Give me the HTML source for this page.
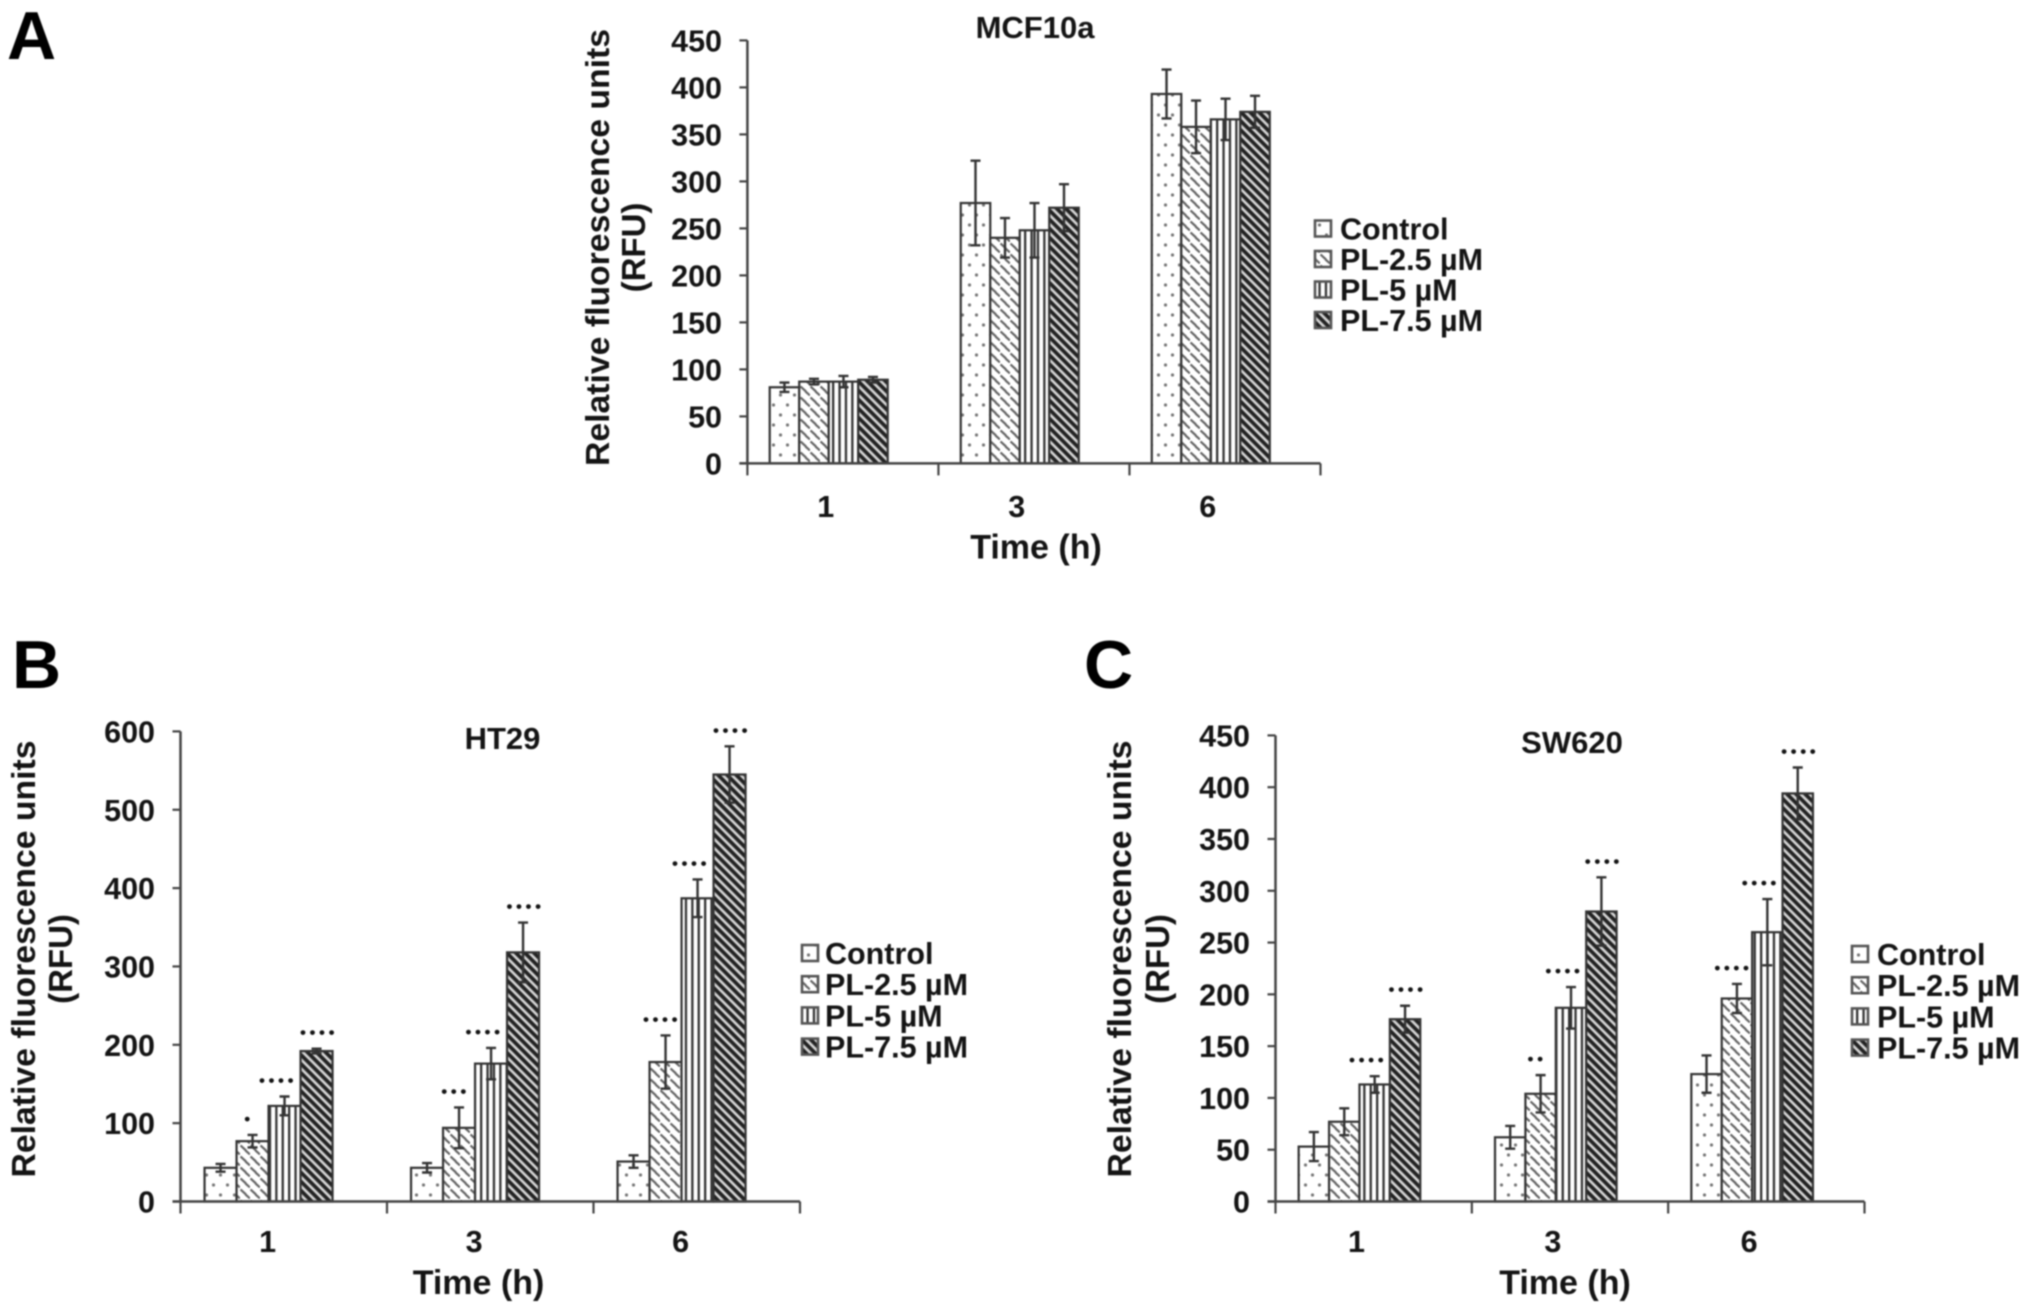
<!DOCTYPE html>
<html>
<head>
<meta charset="utf-8">
<title>Relative fluorescence charts</title>
<style>
html,body{margin:0;padding:0;background:#fff;width:2031px;height:1312px;overflow:hidden}
svg{display:block;filter:blur(0.7px)}
text{font-family:"Liberation Sans",sans-serif;font-weight:bold;fill:#141414}
</style>
</head>
<body>
<svg id="figure" xmlns="http://www.w3.org/2000/svg" width="2031" height="1312" viewBox="0 0 2031 1312">
<defs>
<pattern id="pat-dots" patternUnits="userSpaceOnUse" width="14" height="20">
<rect width="14" height="20" fill="#fff"/>
<circle cx="3.5" cy="5" r="1.6" fill="#777"/>
<circle cx="10.5" cy="15" r="1.6" fill="#777"/>
</pattern>
<pattern id="pat-wave" patternUnits="userSpaceOnUse" width="10" height="11">
<rect width="10" height="11" fill="#fff"/>
<path d="M0.5 1.5L6 6.5M5.5 6.5L10 10.5" stroke="#666" stroke-width="2.2" fill="none"/>
</pattern>
<pattern id="pat-vert" patternUnits="userSpaceOnUse" width="6.4" height="10">
<rect width="6.4" height="10" fill="#fff"/>
<rect x="0" width="2.3" height="10" fill="#333"/>
</pattern>
<pattern id="pat-diag" patternUnits="userSpaceOnUse" width="6.4" height="6.4" patternTransform="rotate(45)">
<rect width="6.4" height="6.4" fill="#d4d4d4"/>
<rect y="0" width="6.4" height="3.7" fill="#222"/>
</pattern>
</defs>
</svg>
<script>
// ---- shared data ----
const categories = ['1', '3', '6'];
const seriesNames = ['Control', 'PL-2.5 µM', 'PL-5 µM', 'PL-7.5 µM'];

// Panel A: MCF10a
const mcfTicks = [0, 50, 100, 150, 200, 250, 300, 350, 400, 450];
const mcfControl = [81, 277, 393];
const mcfPl25 = [87, 240, 358];
const mcfPl5 = [87, 248, 366];
const mcfPl75 = [89, 272, 374];
const mcfControlErr = [5, 45, 26];
const mcfPl25Err = [3, 21, 28];
const mcfPl5Err = [6, 29, 22];
const mcfPl75Err = [3, 25, 17];
const mcfControlStars = [0, 0, 0];
const mcfPl25Stars = [0, 0, 0];
const mcfPl5Stars = [0, 0, 0];
const mcfPl75Stars = [0, 0, 0];

// Panel B: HT29
const htTicks = [0, 100, 200, 300, 400, 500, 600];
const htControl = [43, 43, 51];
const htPl25 = [77, 94, 178];
const htPl5 = [122, 176, 387];
const htPl75 = [192, 318, 545];
const htControlErr = [5, 6, 8];
const htPl25Err = [8, 26, 34];
const htPl5Err = [12, 20, 24];
const htPl75Err = [3, 38, 36];
const htControlStars = [0, 0, 0];
const htPl25Stars = [1, 3, 4];
const htPl5Stars = [4, 4, 4];
const htPl75Stars = [4, 4, 4];

// Panel C: SW620
const swTicks = [0, 50, 100, 150, 200, 250, 300, 350, 400, 450];
const swControl = [53, 62, 123];
const swPl25 = [77, 104, 196];
const swPl5 = [113, 187, 260];
const swPl75 = [176, 280, 394];
const swControlErr = [14, 11, 18];
const swPl25Err = [13, 18, 14];
const swPl5Err = [8, 20, 32];
const swPl75Err = [13, 33, 25];
const swControlStars = [0, 0, 0];
const swPl25Stars = [0, 2, 4];
const swPl5Stars = [4, 4, 4];
const swPl75Stars = [4, 4, 4];

const patterns = ['pat-dots', 'pat-wave', 'pat-vert', 'pat-diag'];
const svgNS = 'http://www.w3.org/2000/svg';
const fig = document.getElementById('figure');

function make(tag, attrs, parent, txt) {
  const el = document.createElementNS(svgNS, tag);
  for (const k in attrs) el.setAttribute(k, attrs[k]);
  if (txt !== undefined) el.textContent = txt;
  parent.appendChild(el);
  return el;
}

function starShift(s) {
  return s === 1 ? -5 : s === 2 ? -8 : s === 3 ? 1 : 0;
}

function drawPanel(p) {
  const g = make('g', {}, fig);
  
  

  const maxV = p.ticks[p.ticks.length - 1];
  const yScale = v => p.y0 - (v / maxV) * (p.y0 - p.yTop);
  const band = (p.xRight - p.xAxis) / categories.length;
  const groupCenter = i => p.xAxis + band * (i + 0.5) + p.groupShift;
  const barX = (i, s) => groupCenter(i) + (s - 2) * p.barW;

  const letter = make('text', {x: p.letterX, y: p.letterY, 'font-size': 68, style: 'fill:#000'}, g, p.letter);
  
  

  const title = make('text', {x: p.titleX, y: p.titleY, 'font-size': 31, 'text-anchor': 'middle'}, g, p.title);
  
  

  // bars + error bars + stars
  p.series.forEach((vals, s) => {
    vals.forEach((v, i) => {
      const x = barX(i, s);
      const bar = make('rect', {x: x, y: yScale(v), width: p.barW, height: p.y0 - yScale(v),
        fill: 'url(#' + patterns[s] + ')', stroke: '#333', 'stroke-width': 2.2}, g);
      
      
    });
  });
  p.series.forEach((vals, s) => {
    vals.forEach((v, i) => {
      const cx = barX(i, s) + p.barW / 2;
      const e = p.errors[s][i];
      const top = yScale(v + e), bot = yScale(v - e);
      const eb = make('path', {d: 'M' + cx + ' ' + top + 'V' + bot +
        'M' + (cx - 5) + ' ' + top + 'H' + (cx + 5) +
        'M' + (cx - 5) + ' ' + bot + 'H' + (cx + 5),
        stroke: '#333', 'stroke-width': 2.4, fill: 'none'}, g);
      
      
      const n = p.stars[s][i];
      if (n > 0) {
        const st = make('text', {x: cx + starShift(s) + 1.5, y: top - 10.5, 'font-size': 17, 'letter-spacing': 3.6,
          'text-anchor': 'middle'}, g, '•'.repeat(n));
        
        
      }
    });
  });

  // axes
  const yAxis = make('line', {x1: p.xAxis, x2: p.xAxis, y1: p.yTop, y2: p.y0, stroke: '#444', 'stroke-width': 2.5}, g);
  
  
  const xAxis = make('line', {x1: p.xAxis - 8, x2: p.xRight, y1: p.y0, y2: p.y0, stroke: '#444', 'stroke-width': 2.5}, g);
  
  

  p.ticks.forEach(t => {
    const y = yScale(t);
    const tk = make('line', {x1: p.xAxis - 8, x2: p.xAxis, y1: y, y2: y, stroke: '#444', 'stroke-width': 2.2}, g);
    
    
    const lb = make('text', {x: p.yLabelX, y: y + 11, 'font-size': 30.5, 'text-anchor': 'end'}, g, String(t));
    
    
  });

  for (let i = 0; i <= categories.length; i++) {
    const x = p.xAxis + band * i;
    const tk = make('line', {x1: x, x2: x, y1: p.y0, y2: p.y0 + 12, stroke: '#444', 'stroke-width': 2.2}, g);
    
    
  }
  categories.forEach((c, i) => {
    const lb = make('text', {x: groupCenter(i) + p.tickShift, y: p.xLabelY, 'font-size': 30.5, 'text-anchor': 'middle'}, g, c);
    
    
  });

  const xt = make('text', {x: p.xTitleX, y: p.xTitleY, 'font-size': 34, 'text-anchor': 'middle'}, g, 'Time (h)');
  
  

  const yt1 = make('text', {'font-size': 33, 'text-anchor': 'middle', textLength: p.yTitleLen, lengthAdjust: 'spacingAndGlyphs',
    transform: 'translate(' + p.yTitleX + ' ' + p.yTitleCy + ') rotate(-90)'}, g, 'Relative fluorescence units');
  
  
  const yt2 = make('text', {'font-size': 33, 'text-anchor': 'middle',
    transform: 'translate(' + p.yTitle2X + ' ' + p.yTitleCy + ') rotate(-90)'}, g, '(RFU)');
  
  

  // legend
  const lg = make('g', {}, g);
  
  
  seriesNames.forEach((nm, s) => {
    const cy = p.legendY + s * p.legendStep;
    const sw = make('rect', {x: p.legendX, y: cy - 8, width: 16, height: 16,
      fill: 'url(#' + patterns[s] + ')', stroke: '#555', 'stroke-width': 2.6}, lg);
    
    
    const tx = make('text', {x: p.legendTextX, y: cy + 11, 'font-size': 30.5}, lg, nm);
    
    
  });
}

drawPanel({
  key: 'mcf10a', letter: 'A', title: 'MCF10a', ticks: mcfTicks,
  series: [mcfControl, mcfPl25, mcfPl5, mcfPl75],
  errors: [mcfControlErr, mcfPl25Err, mcfPl5Err, mcfPl75Err],
  stars: [mcfControlStars, mcfPl25Stars, mcfPl5Stars, mcfPl75Stars],
  xAxis: 747.4, xRight: 1320.5, y0: 463.4, yTop: 40.4, barW: 29.5, groupShift: -14.2, tickShift: -3,
  letterX: 7, letterY: 59, titleX: 1035, titleY: 38, yLabelX: 722, xLabelY: 517,
  xTitleX: 1036, xTitleY: 558.5, yTitleX: 609, yTitle2X: 645, yTitleCy: 247.5, yTitleLen: 437,
  legendX: 1315, legendY: 228.5, legendStep: 30.5, legendTextX: 1340
});

drawPanel({
  key: 'ht29', letter: 'B', title: 'HT29', ticks: htTicks,
  series: [htControl, htPl25, htPl5, htPl75],
  errors: [htControlErr, htPl25Err, htPl5Err, htPl75Err],
  stars: [htControlStars, htPl25Stars, htPl5Stars, htPl75Stars],
  xAxis: 180.5, xRight: 800, y0: 1201.5, yTop: 731.4, barW: 32, groupShift: -15.2, tickShift: -1,
  letterX: 12, letterY: 688, titleX: 502.5, titleY: 749, yLabelX: 155, xLabelY: 1252,
  xTitleX: 478.5, xTitleY: 1294, yTitleX: 35, yTitle2X: 72, yTitleCy: 959, yTitleLen: 437,
  legendX: 802, legendY: 953, legendStep: 31.2, legendTextX: 825
});

drawPanel({
  key: 'sw620', letter: 'C', title: 'SW620', ticks: swTicks,
  series: [swControl, swPl25, swPl5, swPl75],
  errors: [swControlErr, swPl25Err, swPl5Err, swPl75Err],
  stars: [swControlStars, swPl25Stars, swPl5Stars, swPl75Stars],
  xAxis: 1275.5, xRight: 1864.5, y0: 1201.5, yTop: 735.4, barW: 30.4, groupShift: -14.2, tickShift: -3,
  letterX: 1084, letterY: 688, titleX: 1572, titleY: 753, yLabelX: 1250, xLabelY: 1252,
  xTitleX: 1565, xTitleY: 1294, yTitleX: 1131, yTitle2X: 1169, yTitleCy: 959, yTitleLen: 437,
  legendX: 1852, legendY: 954, legendStep: 31.2, legendTextX: 1877
});
</script>
</body>
</html>
